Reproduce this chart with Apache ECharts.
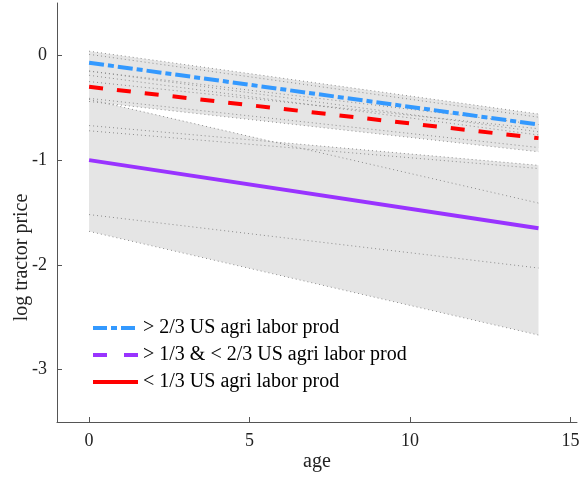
<!DOCTYPE html>
<html>
<head>
<meta charset="utf-8">
<script src="https://cdn.jsdelivr.net/npm/echarts@6/dist/echarts.min.js"></script>
<style>
  html, body { margin: 0; padding: 0; background: #fff; }
  #chart { width: 581px; height: 477px; }
</style>
</head>
<body>
<div id="chart"></div>
<script>
// fitted lines, read at age 0 and age 14
const ages = [0, 14];
const blueFit = [-0.07, -0.66];
const redFit = [-0.30, -0.79];
const purpleFit = [-1.00, -1.65];

// confidence bands (upper / lower edge at age 0 and age 14)
const bandHi = [
  [0.04, -0.56], [0.01, -0.59], [-0.15, -0.66], [-0.25, -0.70],
  [-0.42, -1.41], [-0.67, -1.05]
];
const bandLo = [
  [-0.19, -0.76], [-0.15, -0.73], [-0.44, -0.92], [-0.41, -0.88],
  [-1.52, -2.03], [-1.68, -2.67]
];
// one more dotted bound inside the lower band
const extraBound = [-0.72, -1.08];

const legendNames = [
  '> 2/3 US agri labor prod',
  '> 1/3 & < 2/3 US agri labor prod',
  '< 1/3 US agri labor prod'
];
const legendColors = ['#3399ff', '#9933ff', '#ff0000'];
const legendDash = [[14, 4, 6, 4], [14, 17], 'solid'];

const serif = 'Liberation Serif';
const chart = echarts.init(document.getElementById('chart'));

const toPts = vals => ages.map((a, i) => [a, vals[i]]);

const dotted = (vals) => ({
  type: 'line',
  data: toPts(vals),
  symbol: 'none',
  silent: true,
  z: 3,
  lineStyle: { color: '#8c8c8c', width: 1, type: [1, 3] }
});

const bandSeries = {
  type: 'custom',
  silent: true,
  z: 1,
  data: bandHi.map((h, i) => [ages[0], h[0], bandLo[i][0], ages[1], h[1], bandLo[i][1]]),
  encode: { x: [0, 3], y: [1, 2, 4, 5] },
  renderItem: (params, api) => {
    const pts = [
      api.coord([api.value(0), api.value(1)]),
      api.coord([api.value(3), api.value(4)]),
      api.coord([api.value(3), api.value(5)]),
      api.coord([api.value(0), api.value(2)])
    ];
    return { type: 'polygon', shape: { points: pts }, style: { fill: '#e5e5e5' } };
  }
};

const mainLine = (vals, color, type) => ({
  type: 'line',
  data: toPts(vals),
  symbol: 'none',
  silent: true,
  z: 5,
  lineStyle: { color: color, width: 4, type: type, cap: 'butt' }
});

// legend entries (styled as in the original key)
const legendSeries = legendNames.map((name, i) => ({
  name: name,
  type: 'line',
  data: [],
  symbol: 'none',
  itemStyle: { color: legendColors[i] },
  lineStyle: { color: legendColors[i], width: 4, type: legendDash[i] }
}));

const series = [bandSeries];
bandHi.forEach((h, i) => { series.push(dotted(h)); series.push(dotted(bandLo[i])); });
series.push(dotted(extraBound));
series.push(mainLine(purpleFit, '#9933ff', 'solid'));
series.push(mainLine(redFit, '#ff0000', [14, 14]));
series.push(mainLine(blueFit, '#3399ff', [15, 4, 6, 4]));
series.push(...legendSeries);

chart.setOption({
  animation: false,
  grid: { left: 57, right: 4, top: 3, bottom: 55, outerBoundsMode: 'none', containLabel: false },
  legend: {
    data: legendNames.map((name, i) => ({
      name: name,
      itemStyle: { opacity: 0 },
      lineStyle: { color: legendColors[i], width: 4, type: legendDash[i] }
    })),
    orient: 'vertical',
    left: 91,
    top: 318,
    padding: 0,
    itemWidth: 45,
    itemHeight: 20,
    itemGap: 7,
    textStyle: { fontFamily: serif, fontSize: 20, color: '#000' }
  },
  xAxis: {
    type: 'value',
    min: -1,
    max: 15.2,
    interval: 5,
    name: 'age',
    nameLocation: 'middle',
    nameGap: 30,
    nameMoveOverlap: false,
    nameTextStyle: { fontFamily: serif, fontSize: 20, color: '#222' },
    axisLine: { show: true, onZero: false, lineStyle: { color: '#555', width: 1 } },
    axisTick: { inside: true, length: 5, lineStyle: { color: '#555' }, customValues: [0, 5, 10, 15] },
    axisLabel: {
      fontFamily: serif, fontSize: 18, color: '#222', margin: 10,
      customValues: [0, 5, 10, 15]
    },
    splitLine: { show: false }
  },
  yAxis: {
    type: 'value',
    min: -3.5,
    max: 0.5,
    name: 'log tractor price',
    nameLocation: 'middle',
    nameGap: 25,
    nameMoveOverlap: false,
    nameTextStyle: { fontFamily: serif, fontSize: 20, color: '#222', padding: [0, 90, 0, 0] },
    axisLine: { show: true, onZero: false, lineStyle: { color: '#555', width: 1 } },
    axisTick: { inside: true, length: 5, lineStyle: { color: '#555' }, customValues: [-3, -2, -1, 0] },
    axisLabel: {
      fontFamily: serif, fontSize: 18, color: '#222', margin: 10,
      customValues: [-3, -2, -1, 0]
    },
    splitLine: { show: false }
  },
  series: series
});
</script>
</body>
</html>
